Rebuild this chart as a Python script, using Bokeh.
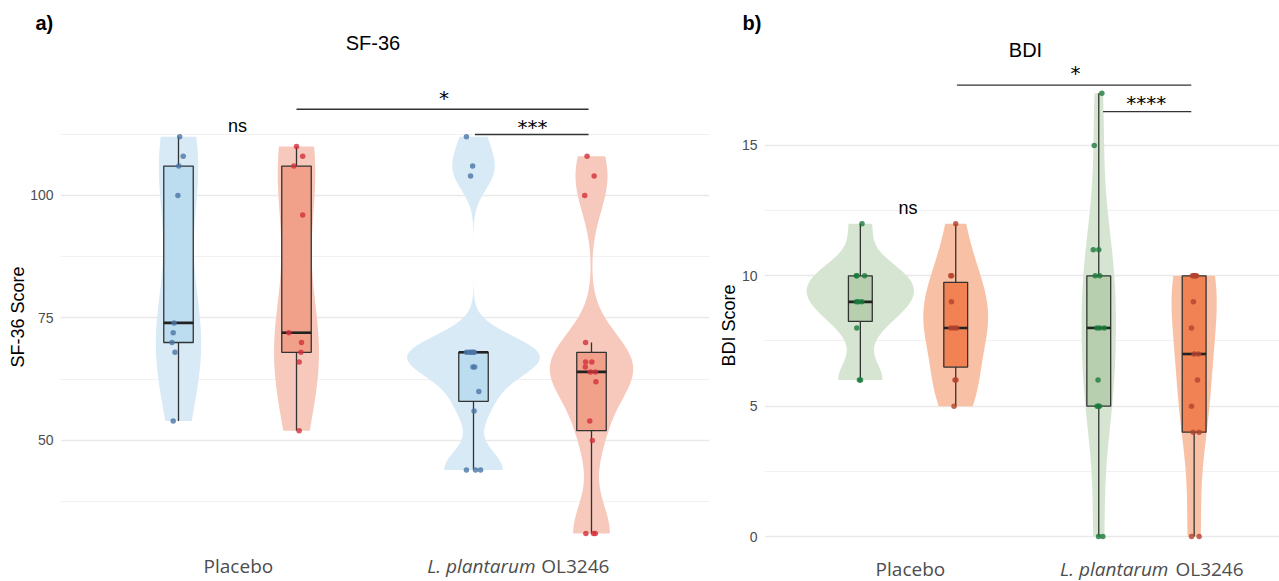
import numpy as np
from bokeh.plotting import figure
from bokeh.layouts import row
from bokeh.models import Range1d, FixedTicker, Label, Title
from bokeh.embed import file_html
from bokeh.resources import INLINE

# ---------------------------------------------------------------- data
group_names = ["Placebo", "L. plantarum OL3246"]
group_pos = [1, 2]
visit_shift = [-0.2, 0.2]          # dodge: first visit (left), second visit (right)

# ---- SF-36 (panel a) : values, read jitter (x units), box [lo, q1, median, q3, hi]
sf36_placebo_v1 = [112, 108, 106, 100, 74, 72, 70, 68, 54]
sf36_placebo_v1_dx = [0.004, 0.016, 0.001, -0.002, -0.015, -0.018, -0.022, -0.012, -0.018]
sf36_placebo_v1_box = [54, 70, 74, 106, 112]

sf36_placebo_v2 = [110, 108, 106, 96, 72, 70, 68, 66, 52]
sf36_placebo_v2_dx = [0.0, 0.021, -0.009, 0.021, -0.026, 0.017, 0.015, 0.009, 0.009]
sf36_placebo_v2_box = [52, 68, 72, 106, 110]

sf36_lp_v1 = [112, 106, 104, 68, 68, 68, 68, 68, 65, 65, 60, 56, 44, 44, 44]
sf36_lp_v1_dx = [-0.024, -0.003, -0.010, -0.024, -0.008, 0.003, -0.015, -0.002, -0.002, 0.004,
                 0.018, 0.002, -0.024, 0.007, 0.024]
sf36_lp_v1_box = [44, 58, 68, 68, 68]

sf36_lp_v2 = [108, 104, 100, 70, 66, 66, 65, 64, 64, 62, 54, 50, 31, 31, 31]
sf36_lp_v2_dx = [-0.015, 0.009, -0.023, -0.020, -0.020, 0.001, -0.021, -0.004, 0.013, 0.015,
                 -0.006, 0.003, -0.019, 0.007, 0.013]
sf36_lp_v2_box = [31, 52, 64, 68, 70]

sf36_sig_text = ["ns", "*", "***"]
sf36_sig_text_x = [1.0, 1.7, 2.0]
sf36_sig_text_y = [112.71, 118.39, 112.53]
sf36_sig_bar_x0 = [1.2, 1.805]
sf36_sig_bar_x1 = [2.19, 2.19]
sf36_sig_bar_y = [117.6, 112.45]

sf36_ticks = [50, 75, 100]
sf36_minor_ticks = [37.5, 62.5, 87.5, 112.5]

# ---- BDI (panel b)
bdi_placebo_v1 = [12, 10, 10, 10, 9, 9, 9, 8, 6, 6]
bdi_placebo_v1_dx = [0.007, -0.017, 0.018, -0.014, -0.017, 0.006, -0.008, -0.015, -0.004, 0.001]
bdi_placebo_v1_box = [6, 8.25, 9, 10, 12]

bdi_placebo_v2 = [12, 10, 10, 9, 8, 8, 8, 6, 6, 5]
bdi_placebo_v2_dx = [0.0, -0.021, -0.017, -0.018, -0.021, 0.004, -0.008, -0.003, 0.001, -0.007]
bdi_placebo_v2_box = [5, 6.5, 8, 9.75, 12]

bdi_lp_v1 = [17, 15, 11, 11, 10, 10, 8, 8, 8, 6, 5, 5, 5, 0, 0]
bdi_lp_v1_dx = [0.013, -0.019, -0.023, 0.0, -0.015, 0.004, -0.008, 0.023, 0.004, -0.003,
                -0.007, 0.003, -0.002, -0.001, 0.017]
bdi_lp_v1_box = [0, 5, 8, 10, 17]

bdi_lp_v2 = [10, 10, 10, 10, 10, 9, 8, 7, 7, 6, 5, 4, 4, 0, 0]
bdi_lp_v2_dx = [-0.007, 0.010, 0.002, -0.002, 0.006, -0.003, -0.011, 0.0, 0.018, 0.014,
                -0.011, 0.021, -0.004, -0.011, 0.021]
bdi_lp_v2_box = [0, 4, 7, 10, 10]

bdi_sig_text = ["ns", "*", "****"]
bdi_sig_text_x = [1.0, 1.702, 1.999]
bdi_sig_text_y = [12.35, 17.50, 16.36]
bdi_sig_bar_x0 = [1.205, 1.818]
bdi_sig_bar_x1 = [2.188, 2.188]
bdi_sig_bar_y = [17.31, 16.30]

bdi_ticks = [0, 5, 10, 15]
bdi_minor_ticks = [2.5, 7.5, 12.5]

# ---------------------------------------------------------------- styles
SANS = "Liberation Sans"
OPEN = "Open Sans"
STAR = "DejaVu Sans"
BOX_LINE = "#333333"
LIFT = 7   # screen px: lifts label baselines onto the reference baselines

sf36_colors = [  # (violin, box, point) for visit 1 / visit 2
    ("#d7eaf6", "#bcdcef", "#4a75a6"),
    ("#f6c9bc", "#f1a18a", "#d5303b"),
]
bdi_colors = [
    ("#d6e5d2", "#b7cfaf", "#1a7a3b"),
    ("#f8c0a4", "#f18254", "#b4442d"),
]


def nrd0(x):
    x = np.asarray(x, float)
    sd = np.std(x, ddof=1)
    q1, q3 = np.percentile(x, [25, 75])
    lo = min(sd, (q3 - q1) / 1.34)
    if lo <= 0:
        lo = sd if sd > 0 else 1.0
    return 0.9 * lo * len(x) ** -0.2


def density(x):
    x = np.asarray(x, float)
    bw = nrd0(x)
    grid = np.linspace(x.min(), x.max(), 512)
    d = np.exp(-0.5 * ((grid[:, None] - x[None, :]) / bw) ** 2).sum(1) / (len(x) * bw * np.sqrt(2 * np.pi))
    return grid, d


def make_panel(width, height, xr, yr, borders, series, ticks, minor, ylabel, ylabel_offset,
               tag, tag_offset, sig, tick_standoff):
    p = figure(width=width, height=height, x_range=Range1d(*xr), y_range=Range1d(*yr),
               output_backend="svg", toolbar_location=None, x_axis_location=None,
               min_border_left=borders[0], min_border_right=borders[1],
               min_border_top=borders[2], min_border_bottom=borders[3])
    p.outline_line_color = None
    p.background_fill_color = "white"
    p.border_fill_color = "white"
    p.xgrid.visible = False
    tk = FixedTicker(ticks=ticks, minor_ticks=minor)
    p.yaxis.ticker = tk
    p.ygrid.ticker = tk
    p.ygrid.grid_line_color = "#e9e9e9"
    p.ygrid.grid_line_width = 1.3
    p.ygrid.minor_grid_line_color = "#efefef"
    p.ygrid.minor_grid_line_width = 0.9
    ax = p.yaxis[0]
    ax.axis_line_color = None
    ax.major_tick_line_color = None
    ax.minor_tick_line_color = None
    ax.major_tick_out = 0
    ax.minor_tick_out = 0
    ax.major_label_text_font = SANS
    ax.major_label_text_font_size = "14px"
    ax.major_label_text_color = "#4d4d4d"
    ax.major_label_standoff = tick_standoff

    # panel tag as the figure title
    p.title.text = tag
    p.title.align = "left"
    p.title.offset = tag_offset
    p.title.standoff = 0
    p.title.text_font = SANS
    p.title.text_font_size = "20px"
    p.title.text_font_style = "bold"
    p.title.text_color = "black"

    # y axis title (outer left panel); starts ylabel_offset px above the frame bottom
    p.add_layout(Title(text=ylabel, align="left", offset=ylabel_offset, standoff=0,
                       text_font=SANS, text_font_size="18px", text_font_style="normal",
                       text_color="black"), "left")

    dens = [density(s["values"]) for s in series]
    dmax = max(d.max() for _, d in dens)
    # violins
    for s, (grid, d) in zip(series, dens):
        cx = s["x"]
        w = 0.225 * d / dmax
        xs = np.concatenate([cx - w, (cx + w)[::-1]])
        ys = np.concatenate([grid, grid[::-1]])
        p.patch(xs, ys, fill_color=s["colors"][0], line_color=None)
    # boxes
    for s in series:
        cx = s["x"]
        lo, q1, med, q3, hi = s["box"]
        p.segment(x0=[cx, cx], y0=[lo, q3], x1=[cx, cx], y1=[q1, hi],
                  line_color=BOX_LINE, line_width=1.3)
        p.quad(left=[cx - 0.05], right=[cx + 0.05], bottom=[q1], top=[q3],
               fill_color=s["colors"][1], line_color=BOX_LINE, line_width=1.3)
        p.segment(x0=[cx - 0.05], y0=[med], x1=[cx + 0.05], y1=[med],
                  line_color="#222222", line_width=2.6)
    # jittered points
    for s in series:
        xs = [s["x"] + d for d in s["dx"]]
        p.scatter(xs, s["values"], size=5.5, fill_color=s["colors"][2],
                  line_color=None, fill_alpha=0.8)
    # significance bars + text
    texts, tx, ty, bx0, bx1, by = sig
    p.segment(x0=bx0, y0=by, x1=bx1, y1=by, line_color="#333333", line_width=1.3)
    for t, x, y in zip(texts, tx, ty):
        star = set(t) == {"*"}
        p.add_layout(Label(x=x, y=y, y_offset=LIFT, text=t, text_align="center",
                           text_baseline="alphabetic",
                           text_font=STAR if star else SANS,
                           text_font_size="20px" if star else "18px",
                           text_color="black"))
    return p


def build_series(groups, colors):
    out = []
    for gi, visits in enumerate(groups):
        for vi, (vals, dx, box) in enumerate(visits):
            out.append(dict(x=group_pos[gi] + visit_shift[vi], values=vals, dx=dx,
                            box=box, colors=colors[vi]))
    return out


sf36_series = build_series(
    [[(sf36_placebo_v1, sf36_placebo_v1_dx, sf36_placebo_v1_box),
      (sf36_placebo_v2, sf36_placebo_v2_dx, sf36_placebo_v2_box)],
     [(sf36_lp_v1, sf36_lp_v1_dx, sf36_lp_v1_box),
      (sf36_lp_v2, sf36_lp_v2_dx, sf36_lp_v2_box)]], sf36_colors)

bdi_series = build_series(
    [[(bdi_placebo_v1, bdi_placebo_v1_dx, bdi_placebo_v1_box),
      (bdi_placebo_v2, bdi_placebo_v2_dx, bdi_placebo_v2_box)],
     [(bdi_lp_v1, bdi_lp_v1_dx, bdi_lp_v1_box),
      (bdi_lp_v2, bdi_lp_v2_dx, bdi_lp_v2_box)]], bdi_colors)

# frame spans page y 33..581; 100 -> page y 195 (4.9 px/unit); 0 -> page y 536 (26.07 px/unit)
pa = make_panel(716, 581, (0.4, 2.6), (21.22, 133.06), (60, 7, 33, 0),
                sf36_series, sf36_ticks, sf36_minor_ticks, "SF-36 Score", 214,
                "a)", -25,
                (sf36_sig_text, sf36_sig_text_x, sf36_sig_text_y,
                 sf36_sig_bar_x0, sf36_sig_bar_x1, sf36_sig_bar_y), 7)

pb = make_panel(563, 581, (0.398, 2.558), (-1.726, 19.294), (48, 0, 33, 0),
                bdi_series, bdi_ticks, bdi_minor_ticks, "BDI Score", 215,
                "b)", -22,
                (bdi_sig_text, bdi_sig_text_x, bdi_sig_text_y,
                 bdi_sig_bar_x0, bdi_sig_bar_x1, bdi_sig_bar_y), 7)


def add_texts(p, title, title_xy, cat_y, placebo_x, lp_split):
    p.add_layout(Label(x=title_xy[0], y=title_xy[1], y_offset=LIFT, text=title, text_align="center",
                       text_baseline="alphabetic", text_font=SANS, text_font_size="20px",
                       text_color="black"))
    p.add_layout(Label(x=placebo_x, y=cat_y, y_offset=LIFT, text=group_names[0], text_align="center",
                       text_baseline="alphabetic", text_font=OPEN, text_font_size="19px",
                       text_color="#4d4d4d"))
    italic_part, plain_part = "L. plantarum", "OL3246"
    p.add_layout(Label(x=lp_split[0], y=cat_y, y_offset=LIFT, text=italic_part, text_align="right",
                       text_baseline="alphabetic", text_font=OPEN, text_font_size="19px",
                       text_font_style="italic", text_color="#4d4d4d"))
    p.add_layout(Label(x=lp_split[1], y=cat_y, y_offset=LIFT, text=plain_part, text_align="left",
                       text_baseline="alphabetic", text_font=OPEN, text_font_size="19px",
                       text_color="#4d4d4d"))


add_texts(pa, "SF-36", (1.459, 129.6), 22.96, 1.003, (2.0102, 2.0295))
add_texts(pb, "BDI", (1.4927, 18.41), -1.496, 1.01, (2.092, 2.1216))

layout = row(pa, pb)
open("out.html", "w").write(file_html(layout, INLINE))
